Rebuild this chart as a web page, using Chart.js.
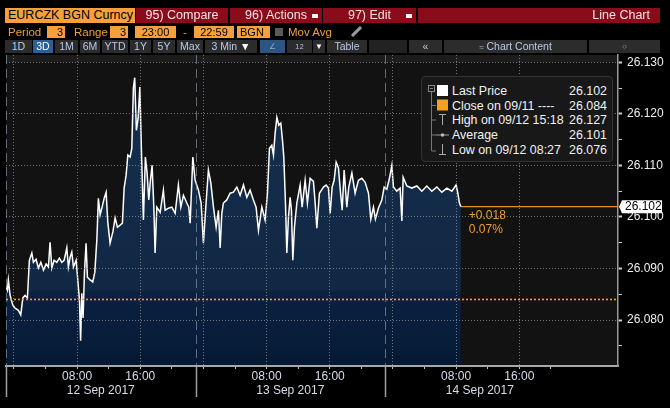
<!DOCTYPE html>
<html>
<head>
<meta charset="utf-8">
<script src="https://cdn.jsdelivr.net/npm/chart.js@4.4.1/dist/chart.umd.min.js"></script>
<style>
  body { margin: 0; background: #000; font-family: "Liberation Sans", Arial, sans-serif; }
  #wrap { position: relative; width: 670px; height: 408px; overflow: hidden; }
  #chart { position: absolute; left: 0; top: 0; }
  .b { position: absolute; box-sizing: border-box; white-space: nowrap; }
  .red { top: 8px; height: 15px; background: #8a0c1b; color: #f4e4e6; font-size: 12.5px; line-height: 15px; text-align: center; }
  .dd { position: absolute; right: 4px; top: 6px; width: 6px; height: 4px; background: #fff; }
  .org { top: 26px; height: 12px; background: #f6a03c; color: #000; font-size: 11px; line-height: 12px; }
  .otx { top: 26px; color: #f0a030; font-size: 11.5px; line-height: 12px; }
  .btn { top: 40px; height: 13px; background: #2c2c2c; color: #b9c9e6; font-size: 10.5px; line-height: 13px; text-align: center; }
  .sel { background: #2d5f94; color: #fff; }
  .lg { position: absolute; color: #f2f2f2; font-size: 12.4px; line-height: 14px; white-space: nowrap; }
  .lv { position: absolute; right: 63px; color: #f2f2f2; font-size: 12.4px; line-height: 14px; }
</style>
</head>
<body>
<div id="wrap">
  <canvas id="chart" width="670" height="408"></canvas>

  <!-- ── header row 1 ── -->
  <div class="b" style="left:5px;top:8px;width:130px;height:15px;background:#f6a03c;color:#000;font-size:12.5px;line-height:15px;padding-left:3px;">EURCZK BGN Curncy</div>
  <div class="b red" style="left:136px;width:92px;">95) Compare</div>
  <div class="b red" style="left:230px;width:92px;">96) Actions<i class="dd"></i></div>
  <div class="b red" style="left:323px;width:93px;">97) Edit<i class="dd"></i></div>
  <div class="b red" style="left:418px;width:242px;text-align:right;padding-right:10px;">Line Chart</div>

  <!-- ── header row 2 ── -->
  <div class="b otx" style="left:8px;">Period</div>
  <div class="b org" style="left:47px;width:18px;text-align:right;padding-right:2px;">3</div>
  <div class="b otx" style="left:74px;">Range</div>
  <div class="b org" style="left:110px;width:18px;text-align:right;padding-right:2px;">3</div>
  <div class="b org" style="left:135px;width:41px;text-align:center;">23:00</div>
  <div class="b otx" style="left:183px;">-</div>
  <div class="b org" style="left:194px;width:40px;text-align:center;">22:59</div>
  <div class="b org" style="left:237px;width:33px;padding-left:3px;">BGN</div>
  <div class="b" style="left:275px;top:28px;width:8px;height:8px;background:#5a5a5a;"></div>
  <div class="b otx" style="left:288px;">Mov Avg</div>
  <div class="b" style="left:350px;top:30px;width:13px;height:3px;background:#9a9a9a;transform:rotate(-45deg);border-radius:1px;"></div>

  <!-- ── header row 3 ── -->
  <div class="b btn" style="left:5px;width:27px;">1D</div>
  <div class="b btn sel" style="left:33px;width:20px;">3D</div>
  <div class="b btn" style="left:55px;width:23px;">1M</div>
  <div class="b btn" style="left:80px;width:20px;">6M</div>
  <div class="b btn" style="left:102px;width:26px;">YTD</div>
  <div class="b btn" style="left:130px;width:21px;">1Y</div>
  <div class="b btn" style="left:153px;width:22px;">5Y</div>
  <div class="b btn" style="left:177px;width:26px;">Max</div>
  <div class="b btn" style="left:205px;width:52px;">3 Min <span style="color:#fff">&#9660;</span></div>
  <div class="b btn" style="left:260px;width:25px;background:#2a5585;color:#9ab;font-size:8px;">&#8736;</div>
  <div class="b btn" style="left:287px;width:25px;font-size:7px;">1&#8202;2</div>
  <div class="b btn" style="left:313px;width:12px;color:#fff;font-size:8px;">&#9660;</div>
  <div class="b btn" style="left:327px;width:40px;">Table</div>
  <div class="b btn" style="left:369px;width:38px;background:#222;"></div>
  <div class="b btn" style="left:409px;width:33px;">&#171;</div>
  <div class="b btn" style="left:444px;width:143px;"><span style="font-size:8px;color:#9ab;">&#8776;</span> Chart Content</div>
  <div class="b btn" style="left:589px;width:71px;font-size:8px;color:#aaa;">&#9675;</div>

  <!-- ── legend ── -->
  <div class="b" style="left:421px;top:76px;width:192px;height:86px;background:#181818;border:1px solid #333;border-radius:4px;"></div>
  <svg class="b" style="left:421px;top:76px;" width="30" height="86">
    <rect x="7.5" y="9.5" width="6" height="6" fill="none" stroke="#888"/>
    <line x1="9" y1="12.5" x2="12" y2="12.5" stroke="#888"/>
    <line x1="10.5" y1="16" x2="10.5" y2="75" stroke="#777"/>
    <line x1="10.5" y1="29.5" x2="15" y2="29.5" stroke="#777"/>
    <line x1="10.5" y1="44" x2="15" y2="44" stroke="#777"/>
    <line x1="10.5" y1="59" x2="15" y2="59" stroke="#777"/>
    <line x1="10.5" y1="75" x2="15" y2="75" stroke="#777"/>
    <rect x="16" y="9" width="11" height="11" fill="#fff"/>
    <rect x="16" y="23.5" width="11" height="11" fill="#f6a020"/>
    <line x1="18" y1="38.5" x2="25" y2="38.5" stroke="#aaa"/>
    <line x1="21.5" y1="38.5" x2="21.5" y2="49" stroke="#aaa"/>
    <line x1="15" y1="59" x2="28" y2="59" stroke="#999"/>
    <circle cx="21.5" cy="59" r="1.8" fill="#bbb"/>
    <line x1="21.5" y1="68" x2="21.5" y2="78.5" stroke="#aaa"/>
    <line x1="18" y1="78.5" x2="25" y2="78.5" stroke="#aaa"/>
  </svg>
  <div id="legend"></div>
</div>

<script>
// ── series (hours from 00:00 12 Sep 2017) ───────────────────────────────
const times = [
  -0.99, -0.82, -0.70, -0.48, -0.14, 0.15, 0.57, 0.87, 1.13, 1.42,
  1.71, 1.96, 2.27, 2.47, 2.81, 3.10, 3.41, 3.74, 4.08, 4.37,
  4.58, 4.80, 5.09, 5.43, 5.76, 6.07, 6.36, 6.70, 6.90, 7.12,
  7.33, 7.54, 7.88, 8.09, 8.30, 8.45, 8.60, 8.76, 8.93, 9.14,
  9.31, 9.65, 9.99, 10.25, 10.50, 10.70, 10.92, 11.17, 11.46, 11.68,
  11.89, 12.18, 12.53, 12.82, 13.11, 13.45, 13.74, 13.96, 14.21, 14.43,
  14.72, 14.93, 15.13, 15.30, 15.51, 15.73, 15.95, 16.15, 16.40, 16.65,
  16.87, 17.08, 17.29, 17.50, 17.72, 17.88, 18.10, 18.52, 18.93, 19.15,
  19.57, 20.00, 20.42, 20.83, 21.14, 21.47, 21.90, 22.15, 22.32, 22.66,
  22.95, 23.37, 23.71, 24.00, 24.30, 24.63, 24.94, 25.27, 25.61, 25.90,
  26.12, 26.33, 26.53, 26.96, 27.38, 27.80, 28.23, 28.65, 29.07, 29.50,
  29.91, 30.33, 30.67, 30.97, 31.40, 31.81, 32.11, 32.36, 32.66, 32.87,
  33.08, 33.30, 33.55, 33.80, 34.01, 34.18, 34.39, 34.56, 34.77, 34.98,
  35.15, 35.32, 35.53, 35.83, 36.25, 36.50, 36.88, 37.17, 37.51, 37.93,
  38.15, 38.36, 38.69, 39.20, 39.54, 39.83, 40.05, 40.30, 40.55, 40.81,
  41.10, 41.31, 41.57, 41.82, 42.16, 42.41, 42.80, 43.21, 43.63, 44.06,
  44.48, 44.90, 45.20, 45.53, 45.78, 46.16, 46.59, 46.89, 47.23, 47.56,
  47.86, 48.06, 48.49, 48.91, 49.13, 49.29, 49.76, 50.39, 51.03, 51.66,
  52.29, 52.93, 53.56, 54.19, 54.83, 55.46, 56.00, 56.22, 56.42, 56.60,
];
const prices = [
  26.0865, 26.0858, 26.0878, 26.0848, 26.0829, 26.0823, 26.0819, 26.0810, 26.0843, 26.0848,
  26.0843, 26.0916, 26.0930, 26.0912, 26.0918, 26.0901, 26.0912, 26.0897, 26.0909, 26.0903,
  26.0951, 26.0901, 26.0916, 26.0912, 26.0920, 26.0912, 26.0916, 26.0940, 26.0903, 26.0922,
  26.0932, 26.0903, 26.0916, 26.0878, 26.0839, 26.0760, 26.0852, 26.0804, 26.0891, 26.0949,
  26.0883, 26.0878, 26.0874, 26.0893, 26.0955, 26.1036, 26.1004, 26.1019, 26.1038, 26.1048,
  26.0990, 26.0949, 26.0971, 26.0998, 26.0980, 26.0984, 26.0988, 26.1056, 26.1081, 26.1120,
  26.1116, 26.1133, 26.1250, 26.1270, 26.1168, 26.1191, 26.1252, 26.1129, 26.0994, 26.1116,
  26.1085, 26.1033, 26.1071, 26.1100, 26.1019, 26.0930, 26.1019, 26.1009, 26.1052, 26.1013,
  26.1017, 26.1019, 26.1007, 26.1062, 26.1019, 26.1042, 26.1027, 26.1019, 26.0988, 26.1116,
  26.1071, 26.1052, 26.1027, 26.0949, 26.1019, 26.1091, 26.1066, 26.1019, 26.0980, 26.1013,
  26.0940, 26.1007, 26.1027, 26.1033, 26.1046, 26.1048, 26.1058, 26.1042, 26.1062, 26.1038,
  26.1052, 26.1033, 26.1019, 26.0974, 26.1019, 26.0994, 26.1046, 26.1133, 26.1139, 26.1120,
  26.1162, 26.1193, 26.1178, 26.1182, 26.1149, 26.1116, 26.1027, 26.0930, 26.1000, 26.1038,
  26.1013, 26.0916, 26.0980, 26.1027, 26.1062, 26.1019, 26.1071, 26.1027, 26.1075, 26.1069,
  26.1027, 26.0978, 26.1046, 26.1058, 26.1062, 26.1056, 26.1007, 26.1058, 26.1071, 26.1106,
  26.1095, 26.1056, 26.1013, 26.1091, 26.1019, 26.1058, 26.1085, 26.1046, 26.1071, 26.1075,
  26.1067, 26.1046, 26.0996, 26.1019, 26.0996, 26.1017, 26.1033, 26.1058, 26.1054, 26.1075,
  26.1100, 26.1058, 26.1050, 26.1056, 26.0992, 26.1077, 26.1060, 26.1056, 26.1060, 26.1050,
  26.1060, 26.1050, 26.1058, 26.1048, 26.1056, 26.1050, 26.1062, 26.1046, 26.1027, 26.1020,
];
const prevClose = 26.084;

const yTicks = [26.075, 26.080, 26.085, 26.090, 26.095, 26.100, 26.105, 26.110, 26.115, 26.120, 26.125, 26.130];
const xTicks = [0, 4, 8, 12, 16, 20, 24, 28, 32, 36, 40, 44, 48, 52, 56, 60, 64, 68];
const sessionStarts = [-1, 23, 47];
const dayLabels = ['12 Sep 2017', '13 Sep 2017', '14 Sep 2017'];

const legendLabels = ['Last Price', 'Close on 09/11 ----', 'High on 09/12 15:18', 'Average', 'Low on 09/12 08:27'];
const legendValues = ['26.102', '26.084', '26.127', '26.101', '26.076'];

const FONT = '"Liberation Sans", Arial, sans-serif';
const X_MIN = -1, X_MAX = 76.5;
const Y_MIN = 26.0711, Y_MAX = 26.1314;

// ── legend rows ─────────────────────────────────────────
const legendRowsY = [84, 98.5, 113, 128, 142.5];
document.getElementById('legend').innerHTML = legendLabels.map((t, i) =>
  `<div class="lg" style="left:452px;top:${legendRowsY[i]}px">${t}</div>` +
  `<div class="lv" style="top:${legendRowsY[i]}px">${legendValues[i]}</div>`).join('');

const isMajor = v => Math.abs(Math.round(v * 100) - v * 100) < 1e-6;

// ── background, session separators, tag ─────────────────
const bbgPlugin = {
  id: 'bbg',
  beforeDraw(chart) {
    const { ctx, chartArea: a, scales: { y } } = chart;
    ctx.save();
    ctx.fillStyle = '#121212';
    ctx.fillRect(a.left, a.top, a.right - a.left, a.bottom - a.top);
    ctx.fillStyle = '#1c1c1c';
    ctx.fillRect(a.left, a.top, a.right - a.left, y.getPixelForValue(yTicks[yTicks.length - 1]) - a.top);
    ctx.restore();
  },
  afterDraw(chart) {
    const { ctx, chartArea: a, scales: { x, y } } = chart;
    ctx.save();
    sessionStarts.forEach(h => {
      const px = Math.round(x.getPixelForValue(h)) + 0.5;
      ctx.strokeStyle = 'rgba(150,165,185,0.6)';
      ctx.lineWidth = 1;
      ctx.setLineDash([9, 5]);
      ctx.beginPath(); ctx.moveTo(px, a.top); ctx.lineTo(px, a.bottom); ctx.stroke();
      ctx.setLineDash([]);
      ctx.strokeStyle = '#a0a0a0';
      ctx.lineWidth = 1.5;
      ctx.beginPath(); ctx.moveTo(px, a.bottom); ctx.lineTo(px, a.bottom + 31); ctx.stroke();
    });

    ctx.font = '12px ' + FONT;
    ctx.fillStyle = '#d8dde8';
    ctx.textAlign = 'center';
    ctx.textBaseline = 'middle';
    dayLabels.forEach((lbl, i) => {
      const c = (x.getPixelForValue(sessionStarts[i]) + x.getPixelForValue(sessionStarts[i] + 24)) / 2;
      ctx.fillText(lbl, c, a.bottom + 25);
    });

    // last price tag on the axis
    const last = prices[prices.length - 1];
    const ly = y.getPixelForValue(last);
    ctx.fillStyle = '#fff';
    ctx.beginPath();
    ctx.moveTo(a.right + 1, ly);
    ctx.lineTo(a.right + 4, ly - 6.5);
    ctx.lineTo(a.right + 44, ly - 6.5);
    ctx.lineTo(a.right + 44, ly + 6.5);
    ctx.lineTo(a.right + 4, ly + 6.5);
    ctx.closePath();
    ctx.fill();
    ctx.fillStyle = '#000';
    ctx.textAlign = 'left';
    ctx.fillText(last.toFixed(3), a.right + 7, ly + 0.5);

    // change vs previous close
    const chg = last - prevClose;
    const lx = x.getPixelForValue(times[times.length - 1]) + 8;
    ctx.fillStyle = '#f29b26';
    ctx.fillText((chg >= 0 ? '+' : '') + chg.toFixed(3), lx, ly + 9);
    ctx.fillText((chg / prevClose * 100).toFixed(2) + '%', lx, ly + 23.5);
    ctx.restore();
  },
};

Chart.defaults.font.family = FONT;

new Chart(document.getElementById('chart'), {
  type: 'line',
  data: {
    datasets: [
      {
        label: 'Close',
        data: [{ x: X_MIN, y: prevClose }, { x: X_MAX, y: prevClose }],
        borderColor: '#f6a01e',
        borderWidth: 1.6,
        borderDash: [2, 2],
        pointRadius: 0,
        order: 1,
      },
      {
        label: 'Last',
        data: [{ x: times[times.length - 1], y: prices[prices.length - 1] }, { x: X_MAX, y: prices[prices.length - 1] }],
        borderColor: '#e8901c',
        borderWidth: 1.2,
        pointRadius: 0,
        order: 1,
      },
      {
        label: 'Last Price',
        data: times.map((t, i) => ({ x: t, y: prices[i] })),
        borderColor: '#ffffff',
        borderWidth: 1.5,
        pointRadius: 0,
        tension: 0,
        fill: 'start',
        backgroundColor: c => {
          const a = c.chart.chartArea;
          if (!a) return '#112844';
          const g = c.chart.ctx.createLinearGradient(0, a.top, 0, a.bottom);
          g.addColorStop(0, '#15304f');
          g.addColorStop(0.755, '#112844');
          g.addColorStop(0.765, '#0b2142');
          g.addColorStop(1, '#041a33');
          return g;
        },
        order: 2,
      },
    ],
  },
  options: {
    responsive: false,
    animation: false,
    events: [],
    layout: { padding: { top: 55, left: 6, right: 0, bottom: 0 } },
    plugins: { legend: { display: false }, tooltip: { enabled: false } },
    scales: {
      x: {
        type: 'linear', min: X_MIN, max: X_MAX,
        afterBuildTicks: s => { s.ticks = xTicks.map(v => ({ value: v })); },
        afterFit: s => { s.height = 42; },
        grid: {
          color: c => (c.tick && c.tick.value % 8 === 0) ? 'rgba(150,150,150,0.75)' : 'transparent',
          tickColor: '#bbb', tickLength: 3, z: 1,
        },
        border: { color: '#a8a8a8', width: 2, dash: [1, 2], z: 1 },
        ticks: {
          color: '#d8dde8', font: { size: 12 }, padding: 0,
          autoSkip: false, maxRotation: 0, minRotation: 0,
          callback: v => {
            const h = ((v % 24) + 24) % 24;
            return h === 8 ? '08:00' : h === 16 ? '16:00' : '';
          },
        },
      },
      y: {
        position: 'right', min: Y_MIN, max: Y_MAX,
        afterBuildTicks: s => { s.ticks = yTicks.map(v => ({ value: v })); },
        afterFit: s => { s.width = 52; },
        grid: {
          color: c => (c.tick && isMajor(c.tick.value)) ? 'rgba(150,150,150,0.75)' : 'transparent',
          tickColor: '#d0d0d0', tickLength: 4,
          tickWidth: c => (c.tick && isMajor(c.tick.value)) ? 2 : 1,
          z: 1,
        },
        border: { color: '#9a9a9a', width: 1.5, dash: [1, 2], z: 1 },
        ticks: {
          color: '#eeeeee', font: { size: 12 }, padding: 5,
          callback: v => isMajor(v) ? v.toFixed(3) : '',
        },
      },
    },
  },
  plugins: [bbgPlugin],
});
</script>
</body>
</html>
